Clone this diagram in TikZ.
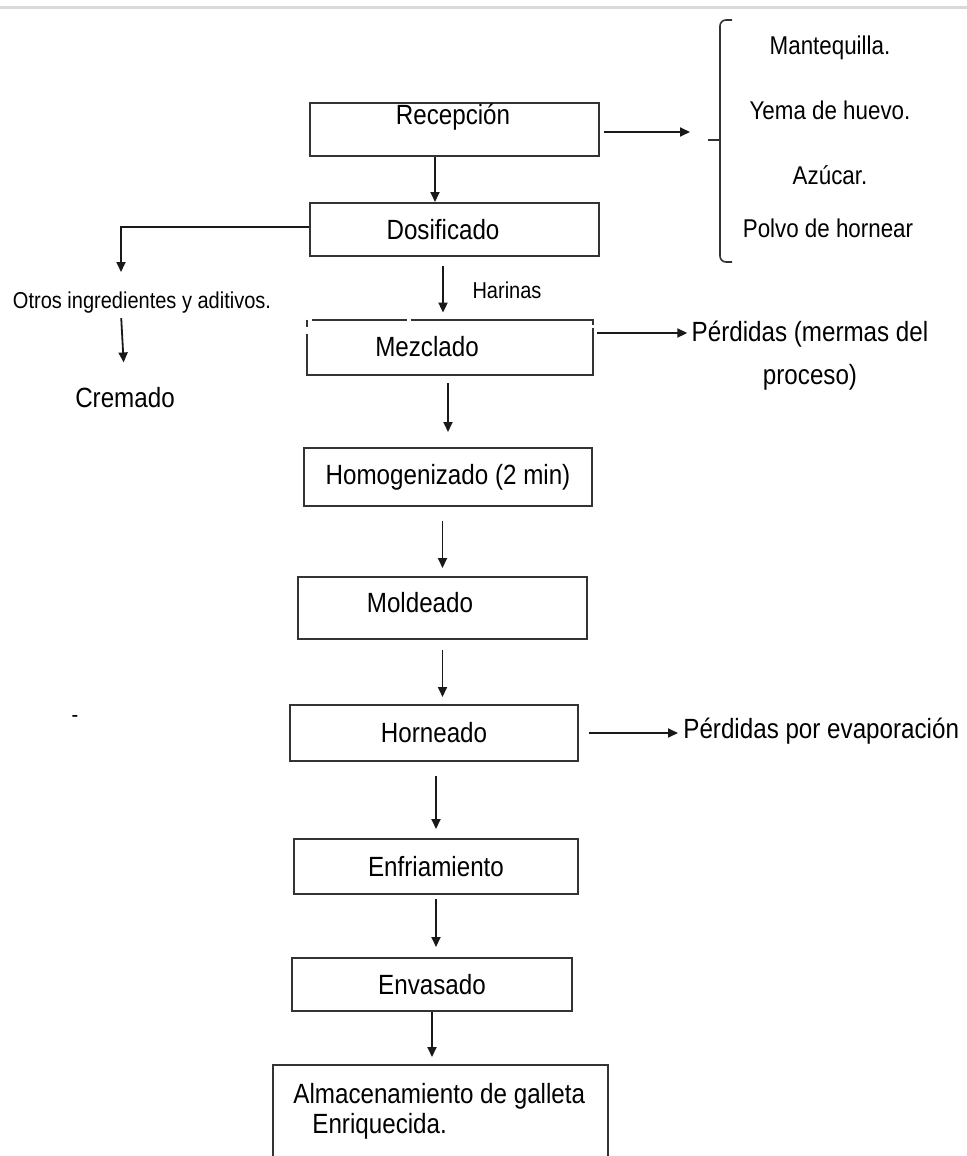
\documentclass[tikz,border=0pt]{standalone}
\usepackage{fontspec}
\setmainfont{Liberation Sans}[FakeStretch=0.87]
\usetikzlibrary{arrows.meta}

\tikzset{
  stepbox/.style={draw=black!80, line width=1pt, inner sep=0pt},
  boxline/.style={draw=black!80, line width=1pt},
  flow/.style={-{Triangle[length=5pt,width=4.5pt]}, line width=0.9pt, draw=black!90},
  bigtxt/.style={inner sep=0pt, text=black, font=\fontsize{13.9}{16}\selectfont},
  midtxt/.style={inner sep=0pt, text=black, font=\fontsize{12.85}{15}\selectfont},
  smalltxt/.style={inner sep=0pt, text=black, font=\fontsize{11.5}{14}\selectfont},
}

\begin{document}
\begin{tikzpicture}[x=0.5pt, y=-0.5pt]
  \useasboundingbox (0,0) rectangle (967,1156);
  \clip (0,0) rectangle (967,1156);
  \fill[white] (0,0) rectangle (967,1156);
  \draw[black!15, line width=1.5pt] (0,8) -- (967,8);

  % process boxes
  \node[stepbox, minimum width=144.5pt, minimum height=26.5pt] (rec) at (454.5,129.5) {};
  \node[bigtxt] (rectxt) at (453,117) {Recepción};
  \node[stepbox, minimum width=144.5pt, minimum height=26.5pt] (dos) at (454.5,229.5) {};
  \node[bigtxt] (dostxt) at (443,230) {Dosificado};
  \node[inner sep=0pt, minimum width=143pt, minimum height=27.5pt] (mez) at (450,347.5) {};
  \node[bigtxt] (meztxt) at (427,347) {Mezclado};
  \node[stepbox, bigtxt, draw, minimum width=144pt, minimum height=29pt] (hom) at (448,477) {Homogenizado (2 min)};
  \node[stepbox, minimum width=144.5pt, minimum height=31pt] (mol) at (442.5,608) {};
  \node[bigtxt] (moltxt) at (420,603) {Moldeado};
  \node[stepbox, bigtxt, draw, minimum width=144pt, minimum height=28pt] (hor) at (434,733) {Horneado};
  \node[stepbox, bigtxt, draw, minimum width=142pt, minimum height=27.5pt] (enf) at (436,866.5) {Enfriamiento};
  \node[stepbox, bigtxt, draw, minimum width=140pt, minimum height=26.5pt] (env) at (432,984.5) {Envasado};
  \node[stepbox, minimum width=167.5pt, minimum height=55pt] (alm) at (440.5,1120) {};
  \node[bigtxt, font=\fontsize{13.9}{15}\selectfont, align=left, anchor=west] (almtxt) at (293,1111)
    {Almacenamiento de galleta\\\hspace*{9.5pt}Enriquecida.};

  % Mezclado border with its small breaks
  \draw[boxline] (mez.north west) ++(0,14) -- (mez.south west) -- (mez.south east) -- ++(0,-47);
  \draw[boxline] (mez.north west) -- ++(0,7);
  \draw[boxline] (mez.north west) ++(5,0) -- ++(95,0);
  \draw[boxline] (mez.north west) ++(104,0) -- (mez.north east) -- ++(0,5);

  % ingredients and brace
  \draw[black!80, line width=0.8pt, rounded corners=3pt] (732,20) -- (720,20) -- (720,262) -- (732,262);
  \draw[black!80, line width=0.8pt] (708,140) -- (720,140);
  \coordinate (bracein) at (690,132);
  \node[midtxt] (mant) at (830,48) {Mantequilla.};
  \node[midtxt] (yema) at (830,110) {Yema de huevo.};
  \node[midtxt] (azu) at (830,175) {Azúcar.};
  \node[midtxt] (polvo) at (828,228) {Polvo de hornear};

  % side texts
  \node[smalltxt] (otros) at (142,303) {Otros ingredientes y aditivos.};
  \node[bigtxt] (crem) at (125,398) {Cremado};
  \node[smalltxt] (har) at (507,290) {Harinas};
  \node[bigtxt, font=\fontsize{13.9}{21.5}\selectfont, align=center] (perd) at (810,356) {Pérdidas (mermas del\\proceso)};
  \node[bigtxt, anchor=west] (evap) at (683,731) {Pérdidas por evaporación};
  \node[smalltxt] (dash) at (75,719) {-};
  \coordinate (otrosin) at (121,272);

  % connectors
  \draw[flow, shorten <=2pt] ([yshift=-1.25pt]rec.east) -- (bracein);
  \draw[flow] ([xshift=-9.75pt]rec.south) -- ([xshift=-9.75pt]rec.south |- dos.north);
  \draw[flow] ([yshift=1.25pt]dos.west) -| (otrosin);
  \draw[flow, shorten <=2pt, shorten >=12.5pt] (otros.south -| otrosin) -- (crem.north);
  \draw[flow, shorten <=4.5pt, shorten >=3.5pt] ([xshift=-5.75pt]dos.south) -- ([xshift=-5.75pt]dos.south |- mez.north);
  \draw[flow, shorten <=2pt, shorten >=2pt] ([yshift=7.25pt]mez.east) -- ([yshift=7.25pt]mez.east -| perd.west);
  \draw[flow, shorten <=4pt, shorten >=7.5pt] (mez.south -| hom.north) -- (hom.north);
  \draw[flow, shorten <=7pt, shorten >=4pt] (hom.south -| mol.north) -- (mol.north);
  \draw[flow, shorten <=5pt, shorten >=3.5pt] (mol.south) -- (mol.south |- hor.north);
  \draw[flow, shorten <=5pt, shorten >=2.5pt] (hor.east) -- (hor.east -| evap.west);
  \draw[flow, shorten <=7pt, shorten >=4.5pt] (hor.south -| enf.north) -- (enf.north);
  \draw[flow, shorten <=2pt, shorten >=5pt] (enf.south) -- (enf.south |- env.north);
  \draw[flow, shorten >=3.5pt] (env.south) -- (env.south |- alm.north);
\end{tikzpicture}
\end{document}
